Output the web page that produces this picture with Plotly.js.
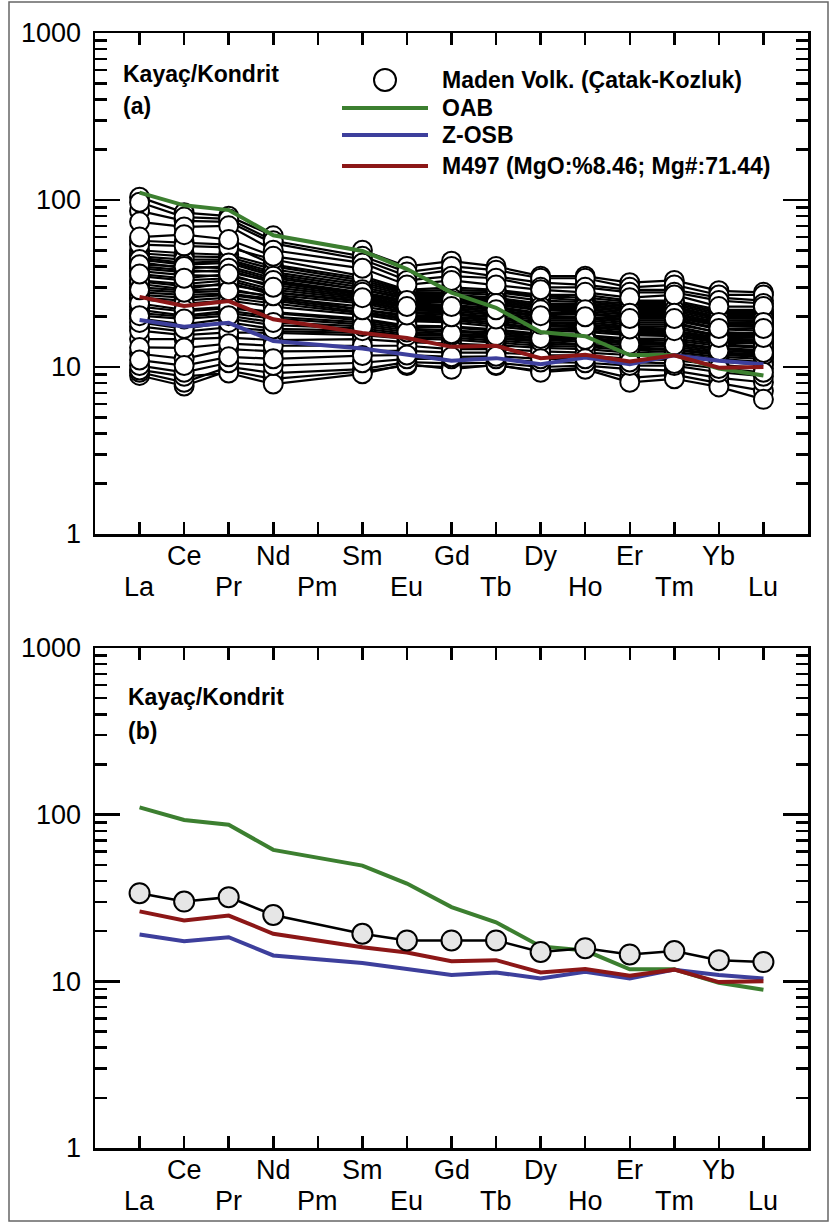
<!DOCTYPE html>
<html>
<head>
<meta charset="utf-8">
<script src="https://cdn.plot.ly/plotly-3.0.1.min.js"></script>
<style>
  html, body { margin: 0; padding: 0; background: #ffffff; }
  #chart { width: 829px; height: 1224px; }
</style>
</head>
<body>
<div id="chart"></div>
<script>
// ---------------- DATA ----------------
const elements = ['La','Ce','Pr','Nd','Pm','Sm','Eu','Gd','Tb','Dy','Ho','Er','Tm','Yb','Lu'];
const measured = ['La','Ce','Pr','Nd','Sm','Eu','Gd','Tb','Dy','Ho','Er','Tm','Yb','Lu'];
const yTickVals = [1, 10, 100, 1000];
const yTickText = ['1', '10', '100', '1000'];

// Maden volcanics (Çatak-Kozluk) samples, chondrite-normalised (order = measured), in plotting order
const samples = [
  [104, 84, 80, 61, 50, 40, 43, 40, 35, 35, 32, 33, 28.6, 28],
  [32.5, 30.5, 31, 28, 24.5, 21.8, 21.5, 20.5, 19, 19, 18, 18, 16.2, 15.8],
  [12, 11.2, 12.8, 12.4, 12.5, 12.5, 12.2, 12.2, 11.8, 11.7, 11.2, 11, 10.3, 9.8],
  [57, 55.5, 54, 41, 34, 28.5, 29, 28.5, 26.5, 26, 24.5, 24.5, 21.5, 21.5],
  [27, 26, 27, 25, 21.3, 19.6, 19.4, 18.5, 17, 17, 16, 16, 14.5, 14.4],
  [17.5, 16.3, 17.3, 16.4, 16, 15, 15, 14.4, 13.8, 13.5, 12.9, 12.6, 11.8, 11.5],
  [45, 42, 43, 36, 30, 26.5, 26.5, 25.5, 23.5, 23.5, 22.5, 22.5, 19.8, 19.7],
  [22, 20.3, 21.7, 20, 18.5, 17, 16.5, 16.1, 15.4, 15, 14.2, 14, 13, 12.6],
  [86, 75, 74, 55, 44, 35, 38, 35, 32, 31, 29, 29, 26, 25],
  [8.9, 7.7, 9.5, 8.5, 9.4, 10.2, 10, 10.2, 9.5, 9.9, 8.6, 9, 8, 7.2],
  [39, 37, 38, 32, 27, 24, 24.4, 23, 21, 21, 20, 20, 18, 17.5],
  [30, 28.8, 29.5, 26, 23, 21, 20.5, 19.8, 18.3, 18, 17.2, 17, 15.3, 15.2],
  [14.7, 14.7, 15, 14.5, 14.7, 14.1, 13.8, 13.5, 13, 12.8, 12.2, 12, 11.2, 10.7],
  [50, 48, 47, 40, 33, 28, 28, 28, 26, 25, 24, 24, 21, 21],
  [26, 25, 26, 24, 21, 19.2, 19, 18, 16.8, 16.6, 15.8, 15.6, 14.3, 14.1],
  [19.5, 18, 19.5, 17.8, 17, 15.8, 15.6, 15.1, 14.5, 14.2, 13.4, 13.2, 12.2, 11.9],
  [42.5, 39, 40, 34, 29, 25.5, 25.5, 24.5, 22.5, 22.5, 21.5, 21.5, 19, 18.8],
  [97, 79, 77, 57, 46, 37, 40, 38, 34, 34, 30, 31, 27, 27],
  [9.3, 8.1, 10, 9.2, 9.7, 10.7, 10.5, 10.6, 10, 10.2, 9.7, 9.5, 8.6, 8.1],
  [35, 33, 34, 29, 25.5, 22.5, 22.5, 21.5, 20, 19.8, 19, 19, 16.8, 16.5],
  [23, 21.5, 22.5, 21, 19, 17.4, 17.2, 16.5, 15.6, 15.3, 14.6, 14.4, 13.4, 13],
  [48, 46, 45.5, 38.5, 32, 27.5, 27.8, 27, 25, 24.5, 23.5, 23.5, 20.5, 20.5],
  [16.5, 15.5, 16.1, 16, 15.5, 14.8, 14.6, 14, 13.4, 13.2, 12.6, 12.3, 11.5, 11.2],
  [28, 27, 27.5, 25.5, 22, 20, 19.8, 19, 17.5, 17.3, 16.5, 16.3, 14.8, 14.6],
  [74, 69, 70, 50, 42, 33, 35, 34, 30, 30, 28, 28, 25, 24],
  [9.6, 8.8, 9.2, 7.9, 9.1, 10.4, 9.7, 10.3, 9.3, 9.7, 8.1, 8.5, 7.6, 6.4],
  [40, 38, 37, 32.5, 27.5, 24.5, 24.6, 23.5, 21.8, 21.5, 20.5, 20.5, 18.2, 18],
  [21, 20, 21, 19.5, 18, 16.6, 16.2, 15.8, 15, 14.8, 14, 13.8, 12.8, 12.4],
  [46, 44, 44, 37, 31, 27, 27, 26, 24, 24, 23, 23, 20, 20],
  [13.1, 13, 13.8, 13.4, 13.4, 13.4, 12.8, 12.8, 12.4, 12.2, 11.8, 11.6, 10.8, 10.3],
  [31.4, 29.3, 32, 27, 24, 21.3, 21, 20, 18.5, 18.5, 17.5, 17.5, 15.5, 15.5],
  [54, 53, 52, 44, 35, 29, 30, 29, 27, 27, 25, 25, 22, 22],
  [25.5, 24, 25, 23, 20.5, 18.8, 18.5, 17.5, 16.5, 16.2, 15.5, 15.3, 14, 13.8],
  [18.5, 17, 18.5, 16.9, 16.5, 15.4, 15.4, 14.8, 14.2, 13.7, 13.1, 12.8, 12, 11.7],
  [37.5, 35.5, 35, 31, 26.5, 23.5, 23.5, 22.5, 20.8, 20.6, 19.8, 19.8, 17.6, 17.3],
  [10.2, 9.3, 10.6, 10.2, 10.6, 11.2, 11.2, 11.2, 10.7, 10.6, 10.2, 10.2, 9.3, 8.8],
  [44, 41, 42, 35, 29, 26, 26, 25, 23, 23, 22, 22, 19.5, 19.4],
  [24, 22, 23, 21.3, 19.5, 17.7, 17.5, 16.8, 15.8, 15.5, 14.8, 14.8, 13.7, 13.2],
  [60, 62, 58, 46, 39, 31, 33, 31, 29, 28, 26, 27, 23, 23],
  [11, 10.2, 11.5, 11.2, 11.7, 11.8, 11.5, 11.6, 11.2, 11.2, 10.7, 10.5, 9.8, 9.3],
  [33, 31.4, 33, 28, 25, 22, 22, 21, 19.5, 19.5, 18.5, 18.5, 16, 16],
  [20.3, 19.4, 20.3, 18.5, 17.5, 16.2, 15.8, 15.4, 14.8, 14.6, 13.7, 13.5, 12.5, 12.2],
  [41, 40, 39, 33, 28, 25, 25, 24, 22, 22, 21, 21, 18.5, 18.5],
  [29, 28, 28.6, 26.7, 22, 20.5, 20, 19.4, 18, 17.5, 16.9, 16.5, 15, 15],
  [36, 34, 36, 30, 26, 23, 23, 22, 20.3, 20, 19.5, 19.5, 17, 17]
];

// Average of Maden volcanics (panel b)
const madenAvg = [33.8, 30.1, 32, 25, 19.3, 17.6, 17.6, 17.6, 15.0, 15.8, 14.5, 15.2, 13.4, 13.05];
// Reference patterns
const oab  = [110.6, 92.9, 87, 61.5, 49.5, 38.6, 27.9, 22.6, 16.2, 15.3, 11.8, 11.8, 9.8, 8.9];
const zosb = [19.1, 17.4, 18.4, 14.3, 12.9, 11.9, 10.9, 11.3, 10.4, 11.4, 10.4, 11.75, 10.9, 10.4];
const m497 = [26.3, 23.2, 24.8, 19.3, 16.0, 14.9, 13.2, 13.4, 11.3, 11.85, 10.8, 11.75, 9.9, 10.0];

const legendLabels = ['Maden Volk. (Çatak-Kozluk)', 'OAB', 'Z-OSB', 'M497 (MgO:%8.46; Mg#:71.44)'];

// ---------------- STYLE / GEOMETRY ----------------
const FONT = 'Liberation Sans, Arial, Helvetica, sans-serif';
const GREEN = '#3c7f30', BLUE = '#3d3f9c', RED = '#8c1717';
const W = 829, H = 1224, ML = 95, MR = 21, MT = 33, MB = 76;
const PW = W - ML - MR, PH = H - MT - MB;
const px = x => (x - ML) / PW;          // pixel -> paper x
const py = y => 1 - (y - MT) / PH;      // pixel -> paper y
const domA = [py(534), 1];
const domB = [0, py(648)];

const xIdx = measured.map(e => elements.indexOf(e));

// ---------------- TRACES ----------------
const traces = [];
// panel (a): each sample is a line + white circles
samples.forEach(s => {
  traces.push({x: xIdx, y: s, xaxis: 'x', yaxis: 'y', mode: 'lines+markers', name: legendLabels[0],
    line: {color: '#000', width: 2.2},
    marker: {size: 19, color: '#ffffff', line: {color: '#000', width: 2}},
    hoverinfo: 'skip', showlegend: false});
});
[[oab, GREEN, 1], [zosb, BLUE, 2], [m497, RED, 3]].forEach(([d, c, k]) => {
  traces.push({x: xIdx, y: d, xaxis: 'x', yaxis: 'y', mode: 'lines', name: legendLabels[k],
    line: {color: c, width: 4}, showlegend: false});
});
// panel (b)
[[oab, GREEN, 1], [zosb, BLUE, 2], [m497, RED, 3]].forEach(([d, c, k]) => {
  traces.push({x: xIdx, y: d, xaxis: 'x2', yaxis: 'y2', mode: 'lines', name: legendLabels[k],
    line: {color: c, width: 4}, showlegend: false});
});
traces.push({x: xIdx, y: madenAvg, xaxis: 'x2', yaxis: 'y2', mode: 'lines+markers', name: legendLabels[0],
  line: {color: '#000', width: 2.5},
  marker: {size: 20, color: '#e6e6e6', line: {color: '#000', width: 2}}, showlegend: false});

// ---------------- AXES ----------------
const minorVals = [];
[1, 10, 100].forEach(d => { for (let k = 2; k <= 9; k++) minorVals.push(k * d); });

function xAxis(anchor) {
  return {domain: [0, 1], anchor: anchor, range: [-1, 15], showgrid: false, zeroline: false,
    tickmode: 'array', tickvals: elements.map((e, i) => i), showticklabels: false,
    ticks: 'inside', ticklen: 12, tickwidth: 2.5, tickcolor: '#000',
    showline: true, linecolor: '#000', linewidth: 2.5, mirror: 'ticks'};
}
function yAxis(dom, anchor) {
  return {domain: dom, anchor: anchor, type: 'log', range: [0, 3], showgrid: false, zeroline: false,
    tickmode: 'array', tickvals: yTickVals, ticktext: yTickText,
    ticks: 'inside', ticklen: 25, tickwidth: 2.5, tickcolor: '#000',
    tickfont: {family: FONT, size: 27, color: '#000'}, ticklabelstandoff: 6,
    minor: {tickmode: 'array', tickvals: minorVals, ticks: 'inside', ticklen: 12, tickwidth: 2.5, tickcolor: '#000', showgrid: false},
    showline: true, linecolor: '#000', linewidth: 2.5, mirror: 'ticks'};
}

// ---------------- ANNOTATIONS ----------------
const annotations = [];
[['x', 'y'], ['x2', 'y2']].forEach(([xa, ya]) => {
  elements.forEach((e, i) => {
    const upper = i % 2 === 1;
    annotations.push({text: e, x: i, xref: xa, y: 0, yref: ya + ' domain', xanchor: 'center', yanchor: 'middle',
      yshift: upper ? -22 : -53, showarrow: false, font: {family: FONT, size: 27, color: '#000'}});
  });
});
const boldFont = {family: FONT, size: 23, color: '#000', weight: 'bold'};
annotations.push({text: '<b>Kayaç/Kondrit</b>', xref: 'paper', yref: 'paper', x: px(121), y: py(74), xanchor: 'left', yanchor: 'middle', showarrow: false, font: boldFont});
annotations.push({text: '<b>(a)</b>', xref: 'paper', yref: 'paper', x: px(121), y: py(106), xanchor: 'left', yanchor: 'middle', showarrow: false, font: boldFont});
annotations.push({text: '<b>Kayaç/Kondrit</b>', xref: 'paper', yref: 'paper', x: px(126), y: py(697), xanchor: 'left', yanchor: 'middle', showarrow: false, font: boldFont});
annotations.push({text: '<b>(b)</b>', xref: 'paper', yref: 'paper', x: px(126), y: py(731), xanchor: 'left', yanchor: 'middle', showarrow: false, font: boldFont});
// manual legend (panel a)
const legY = [80, 108, 135, 166];
legendLabels.forEach((t, k) => {
  annotations.push({text: '<b>' + t + '</b>', xref: 'paper', yref: 'paper', x: px(440), y: py(legY[k]), xanchor: 'left', yanchor: 'middle', showarrow: false, font: boldFont});
});

const shapes = [
  {type: 'circle', xref: 'paper', yref: 'paper', x0: px(374), x1: px(396), y0: py(91), y1: py(69), line: {color: '#000', width: 2}, fillcolor: '#fff'},
  {type: 'line', xref: 'paper', yref: 'paper', x0: px(342), x1: px(428), y0: py(legY[1]), y1: py(legY[1]), line: {color: GREEN, width: 4}},
  {type: 'line', xref: 'paper', yref: 'paper', x0: px(342), x1: px(428), y0: py(legY[2]), y1: py(legY[2]), line: {color: BLUE, width: 4}},
  {type: 'line', xref: 'paper', yref: 'paper', x0: px(342), x1: px(428), y0: py(legY[3]), y1: py(legY[3]), line: {color: RED, width: 4}},
  {type: 'rect', xref: 'paper', yref: 'paper', x0: px(9), x1: px(828), y0: py(1221), y1: py(2), line: {color: '#666', width: 1.5}, layer: 'below'}
];

const layout = {
  width: W, height: H,
  margin: {l: ML, r: MR, t: MT, b: MB},
  paper_bgcolor: '#fff', plot_bgcolor: '#fff',
  showlegend: false,
  font: {family: FONT, color: '#000'},
  xaxis: xAxis('y'),
  yaxis: yAxis(domA, 'x'),
  xaxis2: xAxis('y2'),
  yaxis2: yAxis(domB, 'x2'),
  annotations: annotations,
  shapes: shapes
};

Plotly.newPlot('chart', traces, layout, {displayModeBar: false, staticPlot: true});
</script>
</body>
</html>
